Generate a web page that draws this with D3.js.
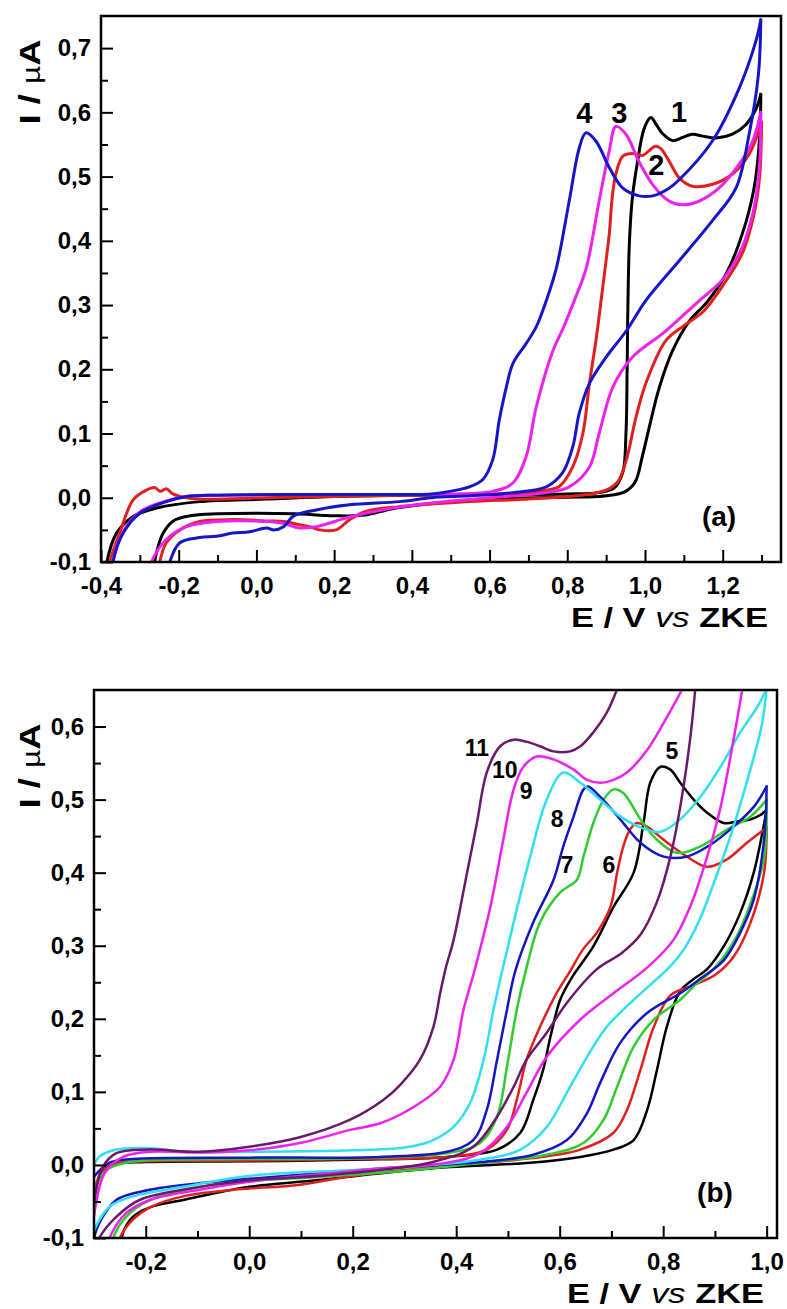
<!DOCTYPE html>
<html><head><meta charset="utf-8">
<script src="https://cdn.jsdelivr.net/npm/d3@7"></script>
<style>
html,body{margin:0;padding:0;background:#fff;}
svg{display:block;}
text{font-family:"Liberation Sans",Arial,sans-serif;white-space:pre;}
</style></head><body>
<svg id="chart" width="787" height="1309"></svg>
<script>
// ---------- tick values ----------
const xTicksA = [-0.4,-0.2,0.0,0.2,0.4,0.6,0.8,1.0,1.2];
const xMinorA = [-0.3,-0.1,0.1,0.3,0.5,0.7,0.9,1.1,1.3];
const yTicksA = [-0.1,0.0,0.1,0.2,0.3,0.4,0.5,0.6,0.7];
const yMinorA = [-0.05,0.05,0.15,0.25,0.35,0.45,0.55,0.65];
const xTicksB = [-0.2,0.0,0.2,0.4,0.6,0.8,1.0];
const xMinorB = [-0.3,-0.1,0.1,0.3,0.5,0.7,0.9];
const yTicksB = [-0.1,0.0,0.1,0.2,0.3,0.4,0.5,0.6];
const yMinorB = [-0.05,0.05,0.15,0.25,0.35,0.45,0.55];

// ---------- panel (a): [E (V), I (uA)] forward and reverse scans ----------
const a1Fwd = [[-0.39,-0.13],[-0.385,-0.1],[-0.36,-0.055],[-0.317,-0.029],[-0.257,-0.016],[-0.146,-0.006],[0.026,-0.002],[0.2,0.002],[0.4,0.004],[0.6,0.005],[0.8,0.006],[0.88,0.008],[0.92,0.015],[0.943,0.04],[0.951,0.1],[0.954,0.2],[0.956,0.3],[0.96,0.4],[0.968,0.47],[0.98,0.52],[0.998,0.575],[1.015,0.592],[1.03,0.58],[1.045,0.567],[1.071,0.556],[1.097,0.561],[1.122,0.566],[1.148,0.563],[1.183,0.56],[1.225,0.566],[1.26,0.581],[1.286,0.606],[1.298,0.628]];
const a1Rev = [[1.298,0.628],[1.295,0.56],[1.28,0.48],[1.25,0.41],[1.21,0.35],[1.16,0.305],[1.114,0.275],[1.071,0.229],[1.037,0.172],[1.011,0.11],[0.993,0.064],[0.975,0.025],[0.95,0.01],[0.9,0.003],[0.83,0.001],[0.66,-0.001],[0.49,-0.007],[0.35,-0.017],[0.28,-0.027],[0.2,-0.028],[0.1,-0.025],[0.0,-0.024],[-0.1,-0.025],[-0.17,-0.028],[-0.214,-0.036],[-0.24,-0.055],[-0.257,-0.085],[-0.27,-0.13]];
const a2Fwd = [[-0.38,-0.13],[-0.377,-0.1],[-0.352,-0.055],[-0.317,-0.003],[-0.283,0.012],[-0.262,0.016],[-0.247,0.01],[-0.232,0.014],[-0.215,0.006],[-0.197,0.002],[-0.146,-0.002],[0.026,0.0],[0.2,0.002],[0.4,0.004],[0.6,0.006],[0.703,0.008],[0.75,0.012],[0.78,0.018],[0.814,0.048],[0.84,0.1],[0.857,0.178],[0.875,0.25],[0.887,0.307],[0.9,0.37],[0.908,0.41],[0.916,0.47],[0.925,0.504],[0.943,0.532],[0.968,0.536],[0.994,0.533],[1.01,0.54],[1.025,0.547],[1.04,0.544],[1.062,0.524],[1.088,0.498],[1.122,0.485],[1.174,0.488],[1.225,0.504],[1.268,0.535],[1.293,0.571],[1.3,0.585]];
const a2Rev = [[1.3,0.585],[1.295,0.5],[1.28,0.44],[1.25,0.38],[1.2,0.33],[1.15,0.29],[1.1,0.268],[1.054,0.245],[1.002,0.178],[0.977,0.126],[0.952,0.059],[0.93,0.025],[0.9,0.012],[0.849,0.005],[0.7,-0.002],[0.55,-0.006],[0.368,-0.014],[0.283,-0.021],[0.24,-0.034],[0.205,-0.05],[0.163,-0.05],[0.137,-0.045],[0.11,-0.042],[0.07,-0.037],[0.026,-0.036],[-0.06,-0.034],[-0.146,-0.037],[-0.197,-0.05],[-0.232,-0.07],[-0.249,-0.1],[-0.255,-0.13]];
const a3Fwd = [[-0.375,-0.13],[-0.37,-0.1],[-0.345,-0.055],[-0.3,-0.022],[-0.232,-0.005],[-0.18,0.002],[-0.1,0.004],[0.1,0.005],[0.3,0.005],[0.5,0.006],[0.608,0.01],[0.66,0.023],[0.694,0.064],[0.72,0.141],[0.763,0.229],[0.79,0.265],[0.82,0.31],[0.849,0.358],[0.882,0.462],[0.908,0.54],[0.925,0.578],[0.951,0.566],[0.984,0.524],[1.019,0.488],[1.062,0.462],[1.096,0.456],[1.14,0.462],[1.19,0.482],[1.242,0.519],[1.277,0.555],[1.298,0.6]];
const a3Rev = [[1.298,0.6],[1.295,0.52],[1.28,0.45],[1.25,0.39],[1.2,0.34],[1.14,0.307],[1.1,0.285],[1.046,0.256],[0.968,0.219],[0.917,0.172],[0.882,0.1],[0.857,0.048],[0.805,0.017],[0.746,0.008],[0.6,0.0],[0.45,-0.008],[0.35,-0.016],[0.24,-0.03],[0.154,-0.045],[0.11,-0.047],[0.07,-0.04],[0.026,-0.037],[-0.103,-0.037],[-0.18,-0.045],[-0.232,-0.065],[-0.27,-0.1],[-0.28,-0.13]];
const a4Fwd = [[-0.372,-0.13],[-0.369,-0.1],[-0.343,-0.055],[-0.3,-0.024],[-0.232,-0.006],[-0.18,0.002],[-0.1,0.004],[0.1,0.005],[0.3,0.005],[0.45,0.006],[0.489,0.009],[0.548,0.017],[0.582,0.028],[0.608,0.059],[0.625,0.121],[0.643,0.172],[0.66,0.209],[0.694,0.24],[0.72,0.266],[0.746,0.307],[0.772,0.358],[0.805,0.462],[0.831,0.545],[0.848,0.568],[0.874,0.555],[0.908,0.514],[0.943,0.482],[0.985,0.47],[1.02,0.47],[1.062,0.482],[1.088,0.495],[1.173,0.555],[1.242,0.637],[1.285,0.71],[1.298,0.744]];
const a4Rev = [[1.298,0.744],[1.292,0.66],[1.268,0.566],[1.234,0.482],[1.173,0.431],[1.088,0.369],[1.002,0.307],[0.952,0.26],[0.9,0.219],[0.857,0.178],[0.831,0.132],[0.814,0.079],[0.788,0.039],[0.746,0.017],[0.66,0.008],[0.55,0.003],[0.45,0.0],[0.368,-0.006],[0.24,-0.011],[0.154,-0.019],[0.094,-0.029],[0.07,-0.045],[0.043,-0.05],[0.026,-0.047],[-0.017,-0.053],[-0.06,-0.055],[-0.103,-0.06],[-0.146,-0.062],[-0.197,-0.07],[-0.223,-0.1],[-0.23,-0.13]];

// ---------- panel (b) ----------
const b5Fwd = [[-0.3,-0.05],[-0.285,-0.01],[-0.26,0.001],[-0.2,0.004],[0.0,0.005],[0.2,0.007],[0.382,0.011],[0.479,0.021],[0.524,0.044],[0.549,0.089],[0.568,0.13],[0.582,0.175],[0.601,0.226],[0.625,0.258],[0.665,0.299],[0.704,0.353],[0.743,0.4],[0.762,0.468],[0.775,0.523],[0.795,0.545],[0.814,0.541],[0.833,0.523],[0.859,0.5],[0.885,0.482],[0.917,0.468],[0.943,0.47],[0.969,0.473],[0.988,0.479],[1.0,0.486]];
const b5Rev = [[1.0,0.486],[0.994,0.463],[0.975,0.4],[0.949,0.345],[0.917,0.299],[0.885,0.268],[0.86,0.255],[0.833,0.238],[0.807,0.189],[0.788,0.13],[0.769,0.075],[0.743,0.034],[0.704,0.021],[0.64,0.011],[0.543,0.003],[0.388,-0.003],[0.259,-0.011],[0.13,-0.021],[0.0,-0.03],[-0.128,-0.048],[-0.192,-0.058],[-0.225,-0.071],[-0.244,-0.093],[-0.25,-0.13]];
const b6Fwd = [[-0.3,-0.04],[-0.285,-0.008],[-0.26,0.002],[-0.2,0.005],[0.0,0.006],[0.2,0.008],[0.382,0.011],[0.459,0.021],[0.498,0.048],[0.517,0.089],[0.536,0.144],[0.562,0.189],[0.594,0.235],[0.62,0.265],[0.645,0.295],[0.672,0.318],[0.698,0.353],[0.711,0.4],[0.723,0.436],[0.736,0.459],[0.749,0.468],[0.769,0.463],[0.801,0.445],[0.846,0.422],[0.885,0.408],[0.923,0.418],[0.962,0.441],[0.995,0.459],[1.0,0.462]];
const b6Rev = [[1.0,0.462],[0.995,0.4],[0.969,0.332],[0.936,0.285],[0.9,0.26],[0.855,0.245],[0.814,0.232],[0.782,0.189],[0.756,0.13],[0.73,0.075],[0.704,0.044],[0.64,0.021],[0.543,0.009],[0.4,0.0],[0.2,-0.015],[0.098,-0.027],[-0.03,-0.034],[-0.128,-0.043],[-0.192,-0.058],[-0.225,-0.075],[-0.25,-0.1],[-0.26,-0.13]];
const b7Fwd = [[-0.3,-0.034],[-0.276,-0.007],[-0.238,0.003],[-0.2,0.006],[0.0,0.008],[0.2,0.009],[0.382,0.016],[0.446,0.03],[0.479,0.066],[0.498,0.134],[0.517,0.212],[0.536,0.27],[0.562,0.332],[0.601,0.373],[0.633,0.39],[0.646,0.422],[0.665,0.468],[0.685,0.5],[0.704,0.514],[0.723,0.509],[0.756,0.473],[0.788,0.445],[0.827,0.427],[0.872,0.436],[0.923,0.459],[0.969,0.477],[1.0,0.5]];
const b7Rev = [[1.0,0.5],[0.995,0.42],[0.97,0.36],[0.94,0.31],[0.9,0.27],[0.86,0.245],[0.833,0.226],[0.782,0.199],[0.743,0.162],[0.711,0.107],[0.685,0.062],[0.646,0.03],[0.575,0.014],[0.45,0.003],[0.3,-0.008],[0.1,-0.018],[0.0,-0.022],[-0.096,-0.03],[-0.192,-0.048],[-0.238,-0.071],[-0.263,-0.1],[-0.27,-0.13]];
const b8Fwd = [[-0.3,-0.016],[-0.27,0.003],[-0.225,0.008],[0.0,0.01],[0.253,0.011],[0.382,0.018],[0.433,0.034],[0.459,0.075],[0.479,0.144],[0.498,0.212],[0.514,0.265],[0.549,0.332],[0.588,0.39],[0.607,0.436],[0.627,0.477],[0.646,0.514],[0.655,0.518],[0.678,0.504],[0.717,0.473],[0.756,0.441],[0.801,0.422],[0.846,0.422],[0.891,0.438],[0.936,0.463],[0.975,0.49],[1.0,0.518]];
const b8Rev = [[1.0,0.518],[0.995,0.445],[0.975,0.363],[0.949,0.318],[0.917,0.28],[0.872,0.255],[0.833,0.235],[0.769,0.208],[0.717,0.167],[0.678,0.112],[0.653,0.071],[0.614,0.034],[0.549,0.014],[0.446,0.004],[0.253,-0.005],[0.0,-0.019],[-0.096,-0.025],[-0.192,-0.034],[-0.257,-0.048],[-0.29,-0.08],[-0.3,-0.1]];
const b9Fwd = [[-0.3,0.0],[-0.29,0.011],[-0.257,0.021],[-0.192,0.023],[-0.128,0.018],[0.0,0.018],[0.2,0.02],[0.3,0.024],[0.349,0.032],[0.395,0.052],[0.427,0.085],[0.453,0.144],[0.472,0.212],[0.487,0.26],[0.511,0.332],[0.543,0.422],[0.575,0.5],[0.607,0.537],[0.64,0.523],[0.678,0.5],[0.717,0.477],[0.756,0.462],[0.795,0.456],[0.833,0.473],[0.872,0.504],[0.911,0.545],[0.949,0.592],[0.982,0.627],[1.0,0.652]];
const b9Rev = [[1.0,0.652],[0.99,0.6],[0.96,0.52],[0.93,0.45],[0.9,0.39],[0.87,0.335],[0.84,0.295],[0.814,0.272],[0.743,0.226],[0.691,0.189],[0.653,0.148],[0.614,0.099],[0.575,0.052],[0.524,0.021],[0.446,0.007],[0.253,-0.005],[0.0,-0.015],[-0.128,-0.03],[-0.225,-0.043],[-0.27,-0.057],[-0.297,-0.085],[-0.3,-0.09]];
const b10Fwd = [[-0.3,-0.07],[-0.28,-0.012],[-0.244,0.011],[-0.192,0.018],[-0.096,0.017],[0.0,0.02],[0.098,0.03],[0.195,0.048],[0.253,0.057],[0.317,0.079],[0.369,0.107],[0.395,0.144],[0.414,0.212],[0.435,0.265],[0.466,0.353],[0.491,0.445],[0.511,0.514],[0.53,0.545],[0.556,0.559],[0.588,0.555],[0.627,0.541],[0.653,0.527],[0.678,0.523],[0.704,0.527],[0.73,0.537],[0.769,0.568],[0.801,0.605],[0.837,0.651]];
const b10Rev = [[0.953,0.651],[0.936,0.582],[0.911,0.49],[0.885,0.422],[0.852,0.353],[0.82,0.308],[0.769,0.27],[0.704,0.235],[0.64,0.199],[0.575,0.148],[0.536,0.099],[0.498,0.052],[0.446,0.016],[0.382,0.003],[0.253,-0.005],[0.0,-0.023],[-0.096,-0.034],[-0.192,-0.048],[-0.238,-0.066],[-0.27,-0.1],[-0.28,-0.13]];
const b11Fwd = [[-0.3,-0.05],[-0.283,-0.003],[-0.257,0.016],[-0.192,0.021],[-0.096,0.018],[0.0,0.025],[0.098,0.038],[0.195,0.062],[0.259,0.089],[0.291,0.109],[0.33,0.144],[0.356,0.189],[0.369,0.235],[0.38,0.27],[0.395,0.308],[0.421,0.4],[0.44,0.468],[0.459,0.537],[0.485,0.573],[0.511,0.582],[0.537,0.579],[0.562,0.573],[0.588,0.566],[0.62,0.566],[0.64,0.573],[0.665,0.592],[0.691,0.619],[0.711,0.651]];
const b11Rev = [[0.862,0.651],[0.852,0.582],[0.833,0.49],[0.814,0.422],[0.788,0.36],[0.756,0.315],[0.72,0.29],[0.672,0.268],[0.614,0.222],[0.575,0.181],[0.536,0.144],[0.511,0.107],[0.479,0.066],[0.433,0.025],[0.349,0.003],[0.253,-0.007],[0.098,-0.017],[0.0,-0.021],[-0.128,-0.034],[-0.212,-0.048],[-0.257,-0.071],[-0.29,-0.1],[-0.3,-0.12]];

// curve labels: [text, E, I]
const labelsA = [["4",0.844,0.583],["3",0.934,0.583],["1",1.088,0.585],["2",1.029,0.502]];
const labelsB = [["11",0.44,0.559],["10",0.494,0.530],["9",0.535,0.501],["8",0.595,0.463],["7",0.614,0.400],["6",0.695,0.399],["5",0.817,0.555]];

// ---------- styling ----------
const colorsA = ["#000000","#e0201e","#ee22ee","#1616c8"];
const colorsB = ["#000000","#e0201e","#30cc30","#1616c0","#30e0ee","#ee22ee","#6a1a6a"];

const seriesA = [[a1Fwd,a1Rev],[a2Fwd,a2Rev],[a3Fwd,a3Rev],[a4Fwd,a4Rev]];
const seriesB = [[b5Fwd,b5Rev],[b6Fwd,b6Rev],[b7Fwd,b7Rev],[b8Fwd,b8Rev],[b9Fwd,b9Rev],[b10Fwd,b10Rev],[b11Fwd,b11Rev]];

const svg = d3.select("#chart");
const fmt = v => (v < -1e-9 ? "-" : "") + Math.abs(v).toFixed(1).replace(".", ",");

function panel(cfg) {
  const x = d3.scaleLinear().domain(cfg.xDom).range([cfg.left, cfg.right]);
  const y = d3.scaleLinear().domain(cfg.yDom).range([cfg.bottom, cfg.top]);
  const g = svg.append("g");
  const clipId = "clip" + cfg.id;
  g.append("clipPath").attr("id", clipId).append("rect")
    .attr("x", cfg.left).attr("y", cfg.top)
    .attr("width", cfg.right - cfg.left).attr("height", cfg.bottom - cfg.top);
  const line = d3.line().x(d => x(d[0])).y(d => y(d[1])).curve(d3.curveCatmullRom.alpha(0.5));
  const cg = g.append("g").attr("clip-path", `url(#${clipId})`);
  cfg.series.forEach((s, i) => {
    s.forEach(seg => {
      cg.append("path").attr("d", line(seg)).attr("fill", "none")
        .attr("stroke", cfg.colors[i]).attr("stroke-width", cfg.lw)
        .attr("stroke-linejoin", "round").attr("stroke-linecap", "round");
    });
  });
  // axes
  const styleAxis = sel => {
    sel.select(".domain").remove();
    sel.selectAll(".tick line").attr("stroke", "#000").attr("stroke-width", 2);
    sel.selectAll(".tick text").attr("fill", "#000").style("font-size", "24px")
      .style("font-weight", "bold").style("font-family", '"Liberation Sans", Arial, sans-serif');
  };
  g.append("g").attr("transform", `translate(0,${cfg.bottom})`)
    .call(d3.axisBottom(x).tickValues(cfg.xMinor).tickSize(-7).tickFormat(""))
    .call(styleAxis);
  g.append("g").attr("transform", `translate(0,${cfg.bottom})`)
    .call(d3.axisBottom(x).tickValues(cfg.xTicks).tickSize(-12).tickPadding(15).tickFormat(fmt))
    .call(styleAxis);
  g.append("g").attr("transform", `translate(${cfg.left},0)`)
    .call(d3.axisLeft(y).tickValues(cfg.yMinor).tickSize(-7).tickFormat(""))
    .call(styleAxis);
  g.append("g").attr("transform", `translate(${cfg.left},0)`)
    .call(d3.axisLeft(y).tickValues(cfg.yTicks).tickSize(-12).tickPadding(10).tickFormat(fmt))
    .call(styleAxis);
  // frame
  g.append("rect").attr("x", cfg.left).attr("y", cfg.top)
    .attr("width", cfg.right - cfg.left).attr("height", cfg.bottom - cfg.top)
    .attr("fill", "none").attr("stroke", "#000").attr("stroke-width", 2.5);
  // curve labels
  cfg.labels.forEach(l => {
    g.append("text").attr("x", x(l[1])).attr("y", y(l[2])).attr("text-anchor", "middle")
      .style("font-size", cfg.labelSize + "px").style("font-weight", "bold").text(l[0]);
  });
  // panel tag
  g.append("text").attr("x", cfg.right - 62).attr("y", cfg.bottom - 36).attr("text-anchor", "middle")
    .style("font-size", "28px").style("font-weight", "bold").text(cfg.tag);
  // x title
  const xt = g.append("text").attr("x", cfg.right - 13).attr("y", cfg.bottom + 65)
    .attr("text-anchor", "end").style("font-size", "27px")
    .attr("textLength", 197).attr("lengthAdjust", "spacingAndGlyphs");
  xt.append("tspan").style("font-weight", "bold").text("E / V ");
  xt.append("tspan").style("font-style", "italic").text("vs");
  xt.append("tspan").style("font-weight", "bold").text(" ZKE");
  // y title
  const yt = g.append("text").attr("transform", `translate(40,${cfg.yTitleY}) rotate(-90)`)
    .attr("text-anchor", "middle").style("font-size", "29px")
    .attr("textLength", 85).attr("lengthAdjust", "spacingAndGlyphs");
  yt.append("tspan").style("font-weight", "bold").text("I / ");
  yt.append("tspan").style("font-size", "25px").text("\u00B5");
  yt.append("tspan").style("font-weight", "bold").text("A");
}

panel({id:"a", xDom:[-0.4,1.35], yDom:[-0.1,0.75], left:101, right:781, top:16, bottom:562,
  xTicks:xTicksA, xMinor:xMinorA, yTicks:yTicksA, yMinor:yMinorA,
  series:seriesA, colors:colorsA, lw:3, labels:labelsA, labelSize:29, tag:"(a)", yTitleY:82});
panel({id:"b", xDom:[-0.3,1.02], yDom:[-0.1,0.65], left:94, right:777, top:690, bottom:1238,
  xTicks:xTicksB, xMinor:xMinorB, yTicks:yTicksB, yMinor:yMinorB,
  series:seriesB, colors:colorsB, lw:2.5, labels:labelsB, labelSize:23, tag:"(b)", yTitleY:766});
</script>
</body></html>
